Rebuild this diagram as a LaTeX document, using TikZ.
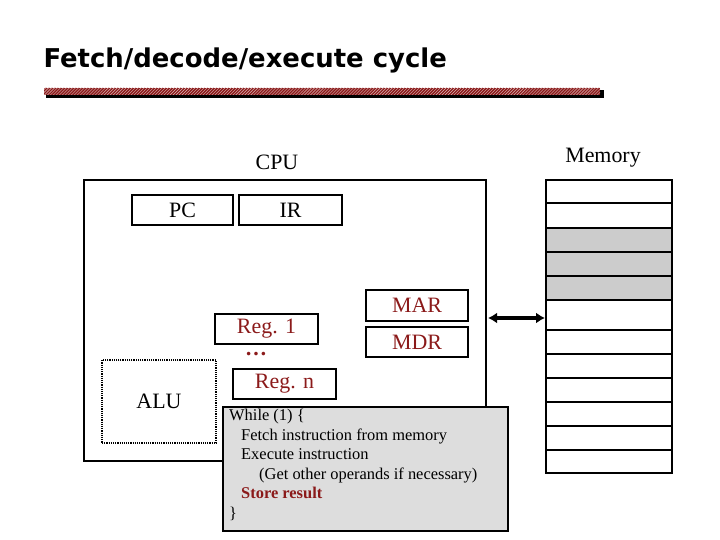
\documentclass[tikz,border=0pt]{standalone}
\usepackage{fontspec}
\setmainfont{Liberation Serif}
\newfontfamily\titlefont{DejaVu Sans}
\usetikzlibrary{patterns,arrows.meta}
\definecolor{dred}{HTML}{8B1A1A}
\definecolor{codegray}{HTML}{DDDDDD}
\definecolor{memgray}{HTML}{CCCCCC}
\begin{document}
\begin{tikzpicture}[x=1bp,y=-1bp,
  big/.style={font=\fontsize{22}{26}\selectfont},
  reg/.style={draw=black,line width=1.6pt,minimum height=30bp,inner sep=0pt,big},
  rreg/.style={reg,text=dred},
  cell/.style={draw=black,line width=1.6pt}]
\useasboundingbox (0,0) rectangle (720,540);
% title
\node[anchor=west,font=\titlefont\bfseries\fontsize{26}{30}\selectfont] (title) at (40,60) {Fetch/decode/execute cycle};
\fill[black] (46,90) rectangle (604,98);
\fill[dred] (44,88) rectangle (600,95);
\fill[pattern=north east lines,pattern color=white!70!dred] (44,88) rectangle (600,95);
% CPU
\node[big] (cpulabel) at (277,162) {CPU};
\draw[line width=1.6pt] (84,180) rectangle (486,461);
\node[reg,minimum width=101bp] (pc) at (182.5,210) {PC};
\node[reg,minimum width=103bp] (ir) at (290.5,210) {IR};
\node[rreg,minimum width=103bp] (r1) at (266.5,329) {Reg. 1};
\node[text=dred,inner sep=0pt,font=\fontsize{22}{26}\selectfont\bfseries] (dots) at (256,354) {\dots};
\node[rreg,minimum width=103bp] (rn) at (284.5,384) {Reg. n};
\node[rreg,minimum width=102bp,minimum height=31bp] (mar) at (417,305.5) {MAR};
\node[rreg,minimum width=102bp] (mdr) at (417,342) {MDR};
\node[draw=black,densely dotted,line width=1.2pt,minimum width=114bp,minimum height=83bp,big] (alu) at (159,401.5) {ALU};
% code box
\node[draw=black,line width=1.6pt,fill=codegray,minimum width=285bp,minimum height=124bp,anchor=north west,inner sep=0pt] (code) at (222,406) {};
\node[anchor=north west,align=left,font=\fontsize{16.5}{19.6}\selectfont,inner sep=0pt] (codetext) at (229,409) {While (1) \{\\
\hspace*{12bp}Fetch instruction from memory\\
\hspace*{12bp}Execute instruction\\
\hspace*{30bp}(Get other operands if necessary)\\
\hspace*{12bp}\textcolor{dred}{\bfseries Store result}\\
\}};
% memory
\node[big] (memlabel) at (603,158) {Memory};
\foreach \a/\b/\f [count=\i] in {180/203/white,203/228/white,228/252/memgray,252/276/memgray,276/300/memgray,300/330/white,330/354/white,354/378/white,378/402/white,402/426/white,426/450/white,450/473/white}
  \draw[cell,fill=\f] (546,\a) rectangle (672,\b);
\coordinate (memside) at (545,318);
\coordinate (cpuside) at (488,318);
\draw[line width=3.5bp,{Latex[length=9bp,width=11bp]}-{Latex[length=9bp,width=11bp]}] (cpuside) -- (memside);
\end{tikzpicture}
\end{document}
